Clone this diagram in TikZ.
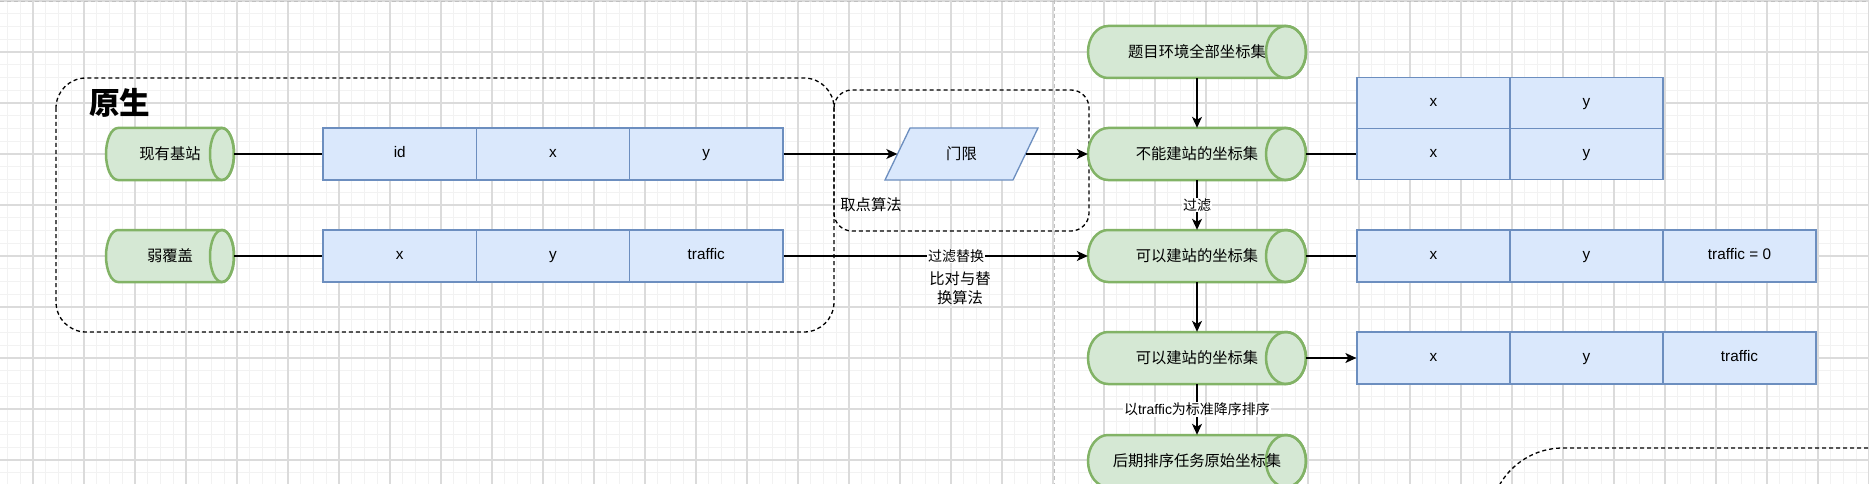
\documentclass[tikz,border=0pt]{standalone}
\usepackage{fontspec}
\setmainfont{Liberation Sans}
\newfontfamily\cjk{Noto Sans CJK SC}
\usetikzlibrary{arrows.meta}
\definecolor{gfill}{HTML}{D5E8D4}
\definecolor{gline}{HTML}{82B366}
\definecolor{bfill}{HTML}{DAE8FC}
\definecolor{bline}{HTML}{6C8EBF}
\definecolor{gridminor}{HTML}{F2F2F2}
\definecolor{gridmajor}{HTML}{DBDBDB}
\definecolor{pageline}{HTML}{C0C0C0}
\tikzset{
  cylshape/.style={fill=gfill, draw=gline, line width=2.5pt},
  cylline/.style={draw=gline, line width=2.5pt},
  cyltext/.style={inner sep=0pt, font=\cjk\fontsize{15.3}{18}\selectfont},
  cell/.style={draw=bline, fill=bfill, line width=1.3pt, minimum width=153.3pt,
    minimum height=52pt, inner sep=0pt, text height=11pt, text depth=3.2pt,
    font=\fontsize{15.3}{18}\selectfont},
  conn/.style={line width=1.3pt},
  arr/.style={line width=1.3pt, -{Stealth[length=11pt,width=10pt,inset=3pt]}},
  grp/.style={draw=black, line width=1.3pt, dash pattern=on 4pt off 3pt},
  elabel/.style={fill=white, inner sep=1pt, font=\fontsize{14}{16}\selectfont},
  txt/.style={inner sep=0pt, font=\cjk\fontsize{15.3}{18.5}\selectfont},
  gminor/.style={draw=gridminor, line width=1pt},
  gmajor/.style={draw=gridmajor, line width=1.3pt},
}
% name, cx, cy, width, half height, end radius, text
\newcommand\drawcyl[7]{%
  \path[cylshape] ({#2-#4/2+#6},{#3-#5}) arc[start angle=90,end angle=270,x radius=#6pt,y radius=#5pt]
     -- ({#2+#4/2-#6},{#3+#5}) arc[start angle=-90,end angle=90,x radius=#6pt,y radius=#5pt] -- cycle;
  \draw[cylline] ({#2+#4/2-#6},#3) ellipse [x radius=#6pt, y radius=#5pt];
  \node[cyltext, minimum width=#4pt, minimum height={2*#5}] (#1) at (#2,#3) {#7};
}
\begin{document}
\begin{tikzpicture}[x=1pt,y=-1pt]
\useasboundingbox (0,0) rectangle (1869,484);
\clip (0,0) rectangle (1869,484);
\fill[white] (0,0) rectangle (1869,484);
% grid
\foreach \k in {-2,...,144} {\draw[gminor] ({33+12.75*\k},0) -- ({33+12.75*\k},484);}
\foreach \k in {0,...,38} {\draw[gminor] (0,{1+12.75*\k}) -- (1869,{1+12.75*\k});}
\foreach \k in {0,...,36} {\draw[gmajor] ({33+51*\k},0) -- ({33+51*\k},484);}
\foreach \k in {0,...,9} {\draw[gmajor] (0,{1+51*\k}) -- (1869,{1+51*\k});}
\draw[pageline, line width=1pt, dash pattern=on 4pt off 3pt] (0,1.5) -- (1869,1.5);
\draw[pageline, line width=1pt, dash pattern=on 4pt off 3pt] (1054,0) -- (1054,484);

% groups
\draw[grp, rounded corners=30pt] (56,78) rectangle (834,332);
\draw[grp, rounded corners=18pt] (834,90) rectangle (1089,231);
\draw[grp, rounded corners=73pt] (1490,448) rectangle (2100,800);
\node[anchor=west, inner sep=0pt, font=\cjk\bfseries\fontsize{30.6}{34}\selectfont] (title) at (89,103) {原生};

% cylinders
\drawcyl{exist}{170}{154}{128}{26}{12}{现有基站}
\drawcyl{weak}{170}{256}{128}{26}{12}{弱覆盖}
\drawcyl{all}{1197}{52}{218}{26}{20}{题目环境全部坐标集}
\drawcyl{nobuild}{1197}{154}{218}{26}{20}{不能建站的坐标集}
\drawcyl{canA}{1197}{256}{218}{26}{20}{可以建站的坐标集}
\drawcyl{canB}{1197}{358}{218}{26}{20}{可以建站的坐标集}
\drawcyl{sorted}{1197}{461}{218}{26}{20}{后期排序任务原始坐标集}

% left tables
\node[cell] (r1a) at (399.7,154) {id};
\node[cell] (r1b) at (553,154) {x};
\node[cell] (r1c) at (706.3,154) {y};
\node[cell] (r2a) at (399.7,256) {x};
\node[cell] (r2b) at (553,256) {y};
\node[cell] (r2c) at (706.3,256) {traffic};

% right tables
\node[cell, minimum width=153pt, minimum height=51pt] (t1a) at (1433.5,103) {x};
\node[cell, minimum width=153pt, minimum height=51pt] (t1b) at (1586.5,103) {y};
\node[cell, minimum width=153pt, minimum height=51pt] (t1c) at (1433.5,154) {x};
\node[cell, minimum width=153pt, minimum height=51pt] (t1d) at (1586.5,154) {y};
\node[cell, minimum width=153pt] (t2a) at (1433.5,256) {x};
\node[cell, minimum width=153pt] (t2b) at (1586.5,256) {y};
\node[cell, minimum width=153pt] (t2c) at (1739.5,256) {traffic = 0};
\node[cell, minimum width=153pt] (t3a) at (1433.5,358) {x};
\node[cell, minimum width=153pt] (t3b) at (1586.5,358) {y};
\node[cell, minimum width=153pt] (t3c) at (1739.5,358) {traffic};

% threshold parallelogram
\path[fill=bfill, draw=bline, line width=1.3pt] (910,128) -- (1038,128) -- (1013,180) -- (885,180) -- cycle;
\node[cyltext, minimum width=128pt, minimum height=52pt] (thr) at (961.5,154) {门限};

% free texts
\node[txt] (algo1) at (871,205) {取点算法};
\node[txt, align=center] (algo2) at (960,288) {比对与替\\换算法};

% connectors
\draw[conn] (exist.east) -- (r1a.west);
\draw[conn] (weak.east) -- (r2a.west);
\draw[arr] (r1c.east) -- (thr.west);
\draw[arr] (thr.east) -- (nobuild.west);
\draw[arr] (r2c.east) -- node[elabel, pos=0.567] {\cjk 过滤替换} (canA.west);
\draw[arr] (all.south) -- (nobuild.north);
\draw[arr] (nobuild.south) -- node[elabel] {\cjk 过滤} (canA.north);
\draw[arr] (canA.south) -- (canB.north);
\draw[arr] (canB.south) -- node[elabel] {{\cjk 以}traffic{\cjk 为标准降序排序}} (sorted.north);
\draw[conn] (nobuild.east) -- (t1c.west);
\draw[conn] (canA.east) -- (t2a.west);
\draw[arr] (canB.east) -- (t3a.west);
\end{tikzpicture}
\end{document}
